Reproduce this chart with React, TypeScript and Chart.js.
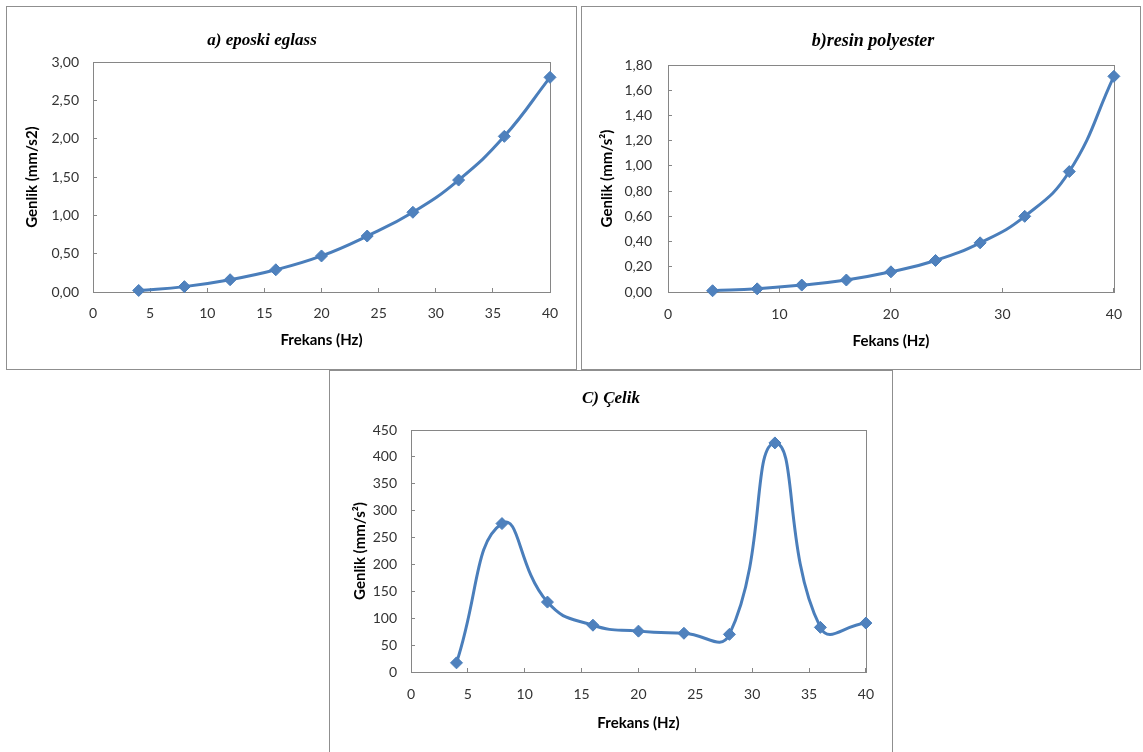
import React, { useEffect, useRef } from 'react';
import { Chart, registerables } from 'chart.js';

Chart.register(...registerables);

// ---- data ----
const frequencies = [4, 8, 12, 16, 20, 24, 28, 32, 36, 40];
const eposkiEglass = [0.02, 0.07, 0.16, 0.29, 0.47, 0.73, 1.04, 1.46, 2.03, 2.8];
const resinPolyester = [0.01, 0.025, 0.055, 0.095, 0.16, 0.25, 0.39, 0.6, 0.955, 1.71];
const celik = [17, 276, 130, 87, 76, 72, 70, 426, 83, 91];

const xTicksA = [0, 5, 10, 15, 20, 25, 30, 35, 40];
const xTicksB = [0, 10, 20, 30, 40];
const xTicksC = [0, 5, 10, 15, 20, 25, 30, 35, 40];
const yTicksA = [0, 0.5, 1, 1.5, 2, 2.5, 3];
const yTicksB = [0, 0.2, 0.4, 0.6, 0.8, 1, 1.2, 1.4, 1.6, 1.8];
const yTicksC = [0, 50, 100, 150, 200, 250, 300, 350, 400, 450];

const titleA = 'a) eposki eglass';
const titleB = 'b)resin polyester';
const titleC = 'C) Çelik';
const yTitleA = 'Genlik (mm/s2)';
const yTitleB = 'Genlik (mm/s²)';
const yTitleC = 'Genlik (mm/s²)';
const xTitleA = 'Frekans (Hz)';
const xTitleB = 'Fekans (Hz)';
const xTitleC = 'Frekans (Hz)';

const AXIS = '#868686';
const LINE = '#4A7EBB';
const MARK = '#4F81BD';
const BOX = '#8f8f8f';

type Area = { left: number; top: number; right: number; bottom: number };

type Props = {
  x: number; y: number; w: number; h: number;
  area: Area;
  values: number[];
  xTicks: number[];
  yTicks: number[];
  decimals: number;
  yTitle: string;
  xTitle: string;
  yLabelPad: number;
  yTitlePad: number;
  xLabelPad: number;
  xTitlePad: number;
  tension: number;
};

const plotBorder = {
  id: 'plotBorder',
  beforeDatasetsDraw(chart: any) {
    const { ctx, chartArea } = chart;
    ctx.save();
    ctx.strokeStyle = AXIS;
    ctx.lineWidth = 1;
    ctx.strokeRect(
      Math.round(chartArea.left) + 0.5,
      Math.round(chartArea.top) + 0.5,
      Math.round(chartArea.right - chartArea.left),
      Math.round(chartArea.bottom - chartArea.top)
    );
    ctx.restore();
  },
};

function LineChart(p: Props) {
  const ref = useRef<HTMLCanvasElement>(null);
  useEffect(() => {
    if (!ref.current) return;
    const fmt = (v: any) => {
      const n = Number(v);
      return p.decimals > 0 ? n.toFixed(p.decimals).replace('.', ',') : String(Math.round(n));
    };
    const chart = new Chart(ref.current, {
      type: 'line',
      data: {
        datasets: [
          {
            data: frequencies.map((f, i) => ({ x: f, y: p.values[i] })),
            borderColor: LINE,
            backgroundColor: MARK,
            borderWidth: 3,
            tension: p.tension,
            pointStyle: 'rectRot',
            pointRadius: 6,
            pointBorderWidth: 1,
            pointBorderColor: LINE,
            pointBackgroundColor: MARK,
            clip: false as any,
          },
        ],
      },
      options: {
        animation: false,
        responsive: false,
        maintainAspectRatio: false,
        devicePixelRatio: 1,
        events: [],
        layout: {
          padding: { left: 0, top: p.area.top, right: p.w - p.area.right, bottom: 0 },
        },
        plugins: {
          legend: { display: false },
          tooltip: { enabled: false },
          title: { display: false },
        },
        scales: {
          x: {
            type: 'linear',
            min: 0,
            max: 40,
            afterBuildTicks: (s: any) => {
              s.ticks = p.xTicks.map((v) => ({ value: v }));
            },
            afterFit: (s: any) => {
              s.height = p.h - p.area.bottom;
            },
            grid: { display: true, drawOnChartArea: false, drawTicks: true, tickLength: -4, color: AXIS },
            border: { display: true, color: AXIS, width: 1 },
            ticks: {
              padding: p.xLabelPad,
              color: '#333',
              font: { family: 'Lato', size: 14 },
              maxRotation: 0,
              autoSkip: false,
              callback: (v: any) => String(v),
            },
            title: {
              display: true,
              text: p.xTitle,
              color: '#000',
              font: { family: 'Lato', size: 15, weight: 'bold' },
              padding: { top: 0, bottom: p.xTitlePad },
            },
          },
          y: {
            type: 'linear',
            min: p.yTicks[0],
            max: p.yTicks[p.yTicks.length - 1],
            afterBuildTicks: (s: any) => {
              s.ticks = p.yTicks.map((v) => ({ value: v }));
            },
            afterFit: (s: any) => {
              s.width = p.area.left;
            },
            grid: { display: true, drawOnChartArea: false, drawTicks: true, tickLength: -4, color: AXIS },
            border: { display: true, color: AXIS, width: 1 },
            ticks: {
              padding: p.yLabelPad,
              color: '#333',
              font: { family: 'Lato', size: 14 },
              autoSkip: false,
              callback: fmt,
            },
            title: {
              display: true,
              text: p.yTitle,
              color: '#000',
              font: { family: 'Lato', size: 15, weight: 'bold' },
              padding: { top: p.yTitlePad, bottom: 0 },
            },
          },
        },
      },
      plugins: [plotBorder],
    } as any);
    const fonts: any = (document as any).fonts;
    if (fonts && fonts.load) {
      Promise.all([fonts.load('14px Lato'), fonts.load('bold 15px Lato')])
        .then(() => chart.update())
        .catch(() => {});
    }
    return () => chart.destroy();
  }, []);
  return (
    <canvas
      ref={ref}
      width={p.w}
      height={p.h}
      style={{ position: 'absolute', left: p.x, top: p.y, width: p.w, height: p.h }}
    />
  );
}

function Box({ x, y, w, h }: { x: number; y: number; w: number; h: number }) {
  return (
    <div
      style={{
        position: 'absolute',
        left: x,
        top: y,
        width: w,
        height: h,
        border: `1px solid ${BOX}`,
        background: '#fff',
      }}
    />
  );
}

function Title({ text, cx, cy, size }: { text: string; cx: number; cy: number; size: number }) {
  return (
    <div
      style={{
        position: 'absolute',
        left: cx,
        top: cy,
        transform: 'translate(-50%, -50%)',
        fontFamily: '"Liberation Serif", "Times New Roman", serif',
        fontWeight: 'bold',
        fontStyle: 'italic',
        fontSize: size,
        whiteSpace: 'nowrap',
        color: '#000',
        lineHeight: 1,
      }}
    >
      {text}
    </div>
  );
}

export default function App() {
  useEffect(() => {
    document.body.style.overflow = 'hidden';
  }, []);
  return (
    <div
      style={{
        position: 'fixed',
        left: 0,
        top: 0,
        width: 1143,
        height: 752,
        overflow: 'hidden',
        background: '#fff',
      }}
    >
      <Box x={6} y={6} w={569} h={362} />
      <Box x={581} y={6} w={558} h={362} />
      <Box x={329} y={370} w={562} h={420} />

      <LineChart
        x={7} y={7} w={569} h={362}
        area={{ left: 86, top: 55, right: 543, bottom: 285 }}
        values={eposkiEglass}
        xTicks={xTicksA}
        yTicks={yTicksA}
        decimals={2}
        yTitle={yTitleA}
        xTitle={xTitleA}
        yLabelPad={18}
        yTitlePad={16}
        xLabelPad={17}
        xTitlePad={20}
        tension={0.45}
      />
      <LineChart
        x={582} y={7} w={558} h={362}
        area={{ left: 86, top: 58, right: 543, bottom: 285 }}
        values={resinPolyester}
        xTicks={xTicksB}
        yTicks={yTicksB}
        decimals={2}
        yTitle={yTitleB}
        xTitle={xTitleB}
        yLabelPad={20}
        yTitlePad={16}
        xLabelPad={18}
        xTitlePad={19}
        tension={0.45}
      />
      <LineChart
        x={330} y={371} w={562} h={381}
        area={{ left: 81, top: 59, right: 538, bottom: 301 }}
        values={celik}
        xTicks={xTicksC}
        yTicks={yTicksC}
        decimals={0}
        yTitle={yTitleC}
        xTitle={xTitleC}
        yLabelPad={18}
        yTitlePad={21}
        xLabelPad={18}
        xTitlePad={20}
        tension={0.5}
      />

      <Title text={titleA} cx={262} cy={39} size={17} />
      <Title text={titleB} cx={873} cy={40} size={18} />
      <Title text={titleC} cx={611} cy={397} size={17} />
    </div>
  );
}
